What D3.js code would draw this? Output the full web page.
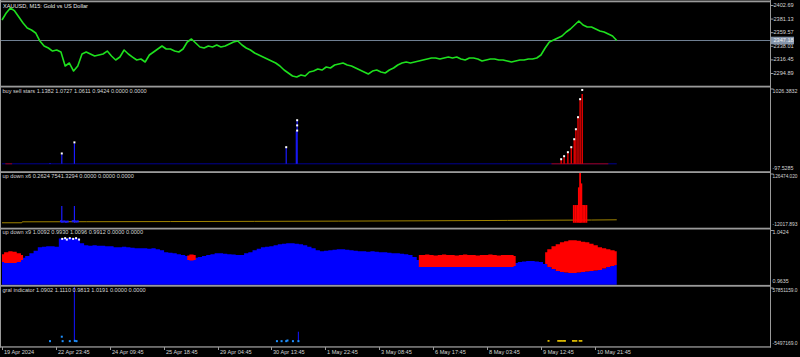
<!DOCTYPE html>
<html><head><meta charset="utf-8">
<script src="https://cdn.jsdelivr.net/npm/d3@7/dist/d3.min.js"></script>
<style>html,body{margin:0;padding:0;background:#000;}svg{display:block;}</style>
</head><body><svg id="chart" width="800" height="357"></svg>
<script>
// ---------------- DATA ----------------
const chartTitle = "XAUUSD, M15:  Gold vs US Dollar";
const sampleStep = 10; // bars between samples
const closePrices = [
2379.7,2390.8,2398.7,2394.0,2384.5,2374.9,2367.0,2363.8,2359.1,2346.4,
2338.5,2335.3,2330.5,2332.1,2329.0,2306.8,2311.5,2298.8,2306.8,2325.8,
2329.0,2325.8,2322.6,2324.2,2325.8,2330.5,2322.6,2316.3,2321.0,2332.1,
2325.8,2321.0,2316.3,2317.9,2313.1,2324.2,2329.0,2333.7,2338.5,2333.7,
2333.7,2330.5,2329.0,2333.7,2344.8,2349.6,2343.3,2336.9,2335.3,2338.5,
2336.9,2340.1,2336.9,2338.5,2341.7,2344.8,2346.4,2340.1,2335.3,2332.1,
2327.4,2324.2,2321.0,2317.9,2314.7,2311.5,2306.8,2300.4,2295.7,2290.9,
2289.3,2292.5,2290.9,2297.3,2298.8,2302.0,2300.4,2305.2,2303.6,2308.4,
2310.0,2311.5,2308.4,2306.8,2303.6,2300.4,2297.3,2294.1,2298.8,2300.4,
2297.3,2295.7,2300.4,2303.6,2308.4,2311.5,2313.1,2311.5,2313.1,2314.7,
2316.3,2317.9,2319.5,2319.5,2317.9,2319.5,2321.0,2319.5,2321.0,2317.9,
2316.3,2319.5,2319.5,2317.9,2314.7,2316.3,2317.9,2317.9,2316.3,2316.3,
2314.7,2313.1,2314.7,2316.3,2316.3,2317.9,2317.9,2319.5,2324.2,2335.3,
2344.8,2348.0,2351.2,2354.3,2360.7,2365.4,2371.8,2378.1,2371.8,2368.6,
2368.6,2365.4,2362.3,2360.7,2357.5,2354.3,2347.2];
const priceTicks = [2402.69, 2381.13, 2359.57, 2338.01, 2316.45, 2294.89];
const priceRange = [2273.5, 2409.8];
const currentPrice = 2347.18;
const timeLabels = ["19 Apr 2024","22 Apr 23:45","24 Apr 09:45","25 Apr 18:45","29 Apr 04:45","30 Apr 13:45","1 May 22:45","3 May 08:45","6 May 17:45","8 May 03:45","9 May 12:45","10 May 21:45"];
const timeTickBars = [0,128,256,384,512,640,768,896,1024,1152,1280,1408];
const totalBars = 1824;

// buy sell stars
const starsLabel = "buy sell stars 1.1382 1.0727 1.0611 0.9424 0.0000 0.0000";
const starsRange = [-97.5285, 1026.3832];
const buyBars = [114, 142, 172, 675, 699, 701];
const buyValues = [12, 129, 278, 214, 440, 580];
const sellBars = [1328, 1335, 1344, 1352, 1359, 1363, 1368, 1373, 1378];
const sellValues = [51, 92, 146, 214, 322, 457, 620, 864, 945];
const starBars = [142, 172, 675, 701, 701, 701, 1328, 1335, 1344, 1352, 1359, 1363, 1368, 1373, 1378];
const starValues = [140, 290, 225, 590, 520, 450, 62, 103, 157, 225, 333, 468, 631, 875, 1000];
const baseSellRanges = [[8, 24], [1305, 1440]];

// up down x6
const udx6Label = "up down x6 0.2624 7541.3294 0.0000 0.0000 0.0000";
const udx6Range = [-12017.893, 126474.020];
const trendBars = [0, 47, 48, 200, 400, 600, 800, 1000, 1200, 1400, 1460];
const trendValues = [0, 0, 2400, 2700, 3100, 3600, 4200, 5000, 6000, 7000, 7541];
const udBlueBars = [142, 172];
const udBlueValues = [42600, 42600];
const udBlueDotBars = [140, 144, 148, 152, 156, 168, 172, 176, 180];
const udBlueDotValues = [4000, 3000, 3500, 2500, 3000, 4000, 4500, 3000, 3500];
const udRedBars = [1358, 1362, 1366, 1370, 1373, 1376, 1380, 1384, 1388];
const udRedValues = [45000, 45000, 45000, 90000, 126474, 100000, 45000, 45000, 45000];

// up down x9
const udx9Label = "up down x9 1.0092 0.9930 1.0096 0.9912 0.0000 0.0000";
const udx9Range = [0.9635, 1.0424];
const blueLevel = [
0.9987,0.9994,1.0001,1.0001,1.0015,1.0022,1.0044,1.0086,1.0121,1.0170,
1.0177,1.0185,1.0185,1.0177,1.0297,1.0304,1.0304,1.0304,1.0297,1.0227,
1.0199,1.0192,1.0199,1.0192,1.0192,1.0185,1.0185,1.0170,1.0170,1.0177,
1.0170,1.0163,1.0156,1.0156,1.0156,1.0149,1.0156,1.0142,1.0128,1.0100,
1.0093,1.0086,1.0072,1.0058,1.0044,1.0030,1.0022,1.0030,1.0044,1.0058,
1.0072,1.0086,1.0086,1.0079,1.0072,1.0065,1.0058,1.0058,1.0086,1.0100,
1.0128,1.0149,1.0170,1.0177,1.0185,1.0199,1.0213,1.0220,1.0227,1.0227,
1.0220,1.0213,1.0199,1.0177,1.0156,1.0128,1.0114,1.0121,1.0128,1.0135,
1.0142,1.0142,1.0135,1.0128,1.0121,1.0114,1.0114,1.0107,1.0114,1.0107,
1.0100,1.0100,1.0093,1.0086,1.0086,1.0079,1.0072,1.0058,1.0030,0.9987,
0.9959,0.9945,0.9931,0.9924,0.9917,0.9917,0.9910,0.9917,0.9917,0.9910,
0.9903,0.9910,0.9917,0.9917,0.9910,0.9903,0.9903,0.9910,0.9917,0.9917,
0.9924,0.9931,0.9945,0.9959,0.9966,0.9973,0.9973,0.9966,0.9959,0.9931,
0.9889,0.9860,0.9832,0.9818,0.9811,0.9804,0.9804,0.9811,0.9818,0.9825,
0.9832,0.9839,0.9846,0.9867,0.9889,0.9903,0.9917];
const redHigh = [
1.0072,1.0100,1.0114,1.0107,1.0086,1.0058,0,0,0,0, 0,0,0,0,0,0,0,0,0,0,
0,0,0,0,0,0,0,0,0,0, 0,0,0,0,0,0,0,0,0,0,
0,0,0,0,1.0051,1.0065,1.0058,0,0,0, 0,0,0,0,0,0,0,0,0,0,
0,0,0,0,0,0,0,0,0,0, 0,0,0,0,0,0,0,0,0,0,
0,0,0,0,0,0,0,0,0,0, 0,0,0,0,0,0,0,0,0,1.0058,
1.0058,1.0065,1.0058,1.0051,1.0058,1.0065,1.0058,1.0058,1.0051,1.0058,
1.0065,1.0058,1.0058,1.0051,1.0058,1.0058,1.0065,1.0058,1.0051,1.0058,
1.0058,1.0058,1.0044,0,0,0,0,0,0,1.0100,
1.0142,1.0185,1.0213,1.0241,1.0255,1.0269,1.0269,1.0262,1.0248,1.0241,
1.0220,1.0199,1.0170,1.0156,1.0142,1.0128,1.0114];
const redLow = [
0.9959,0.9945,0.9945,0.9945,0.9959,0.9987,0,0,0,0, 0,0,0,0,0,0,0,0,0,0,
0,0,0,0,0,0,0,0,0,0, 0,0,0,0,0,0,0,0,0,0,
0,0,0,0,0.9987,0.9980,0.9987,0,0,0, 0,0,0,0,0,0,0,0,0,0,
0,0,0,0,0,0,0,0,0,0, 0,0,0,0,0,0,0,0,0,0,
0,0,0,0,0,0,0,0,0,0, 0,0,0,0,0,0,0,0,0,0.9889,
0.9889,0.9889,0.9889,0.9889,0.9889,0.9889,0.9889,0.9889,0.9889,0.9889,
0.9889,0.9889,0.9889,0.9889,0.9889,0.9889,0.9889,0.9889,0.9889,0.9889,
0.9889,0.9889,0.9903,0,0,0,0,0,0,0.9931,
0.9889,0.9860,0.9832,0.9818,0.9811,0.9804,0.9804,0.9811,0.9818,0.9825,
0.9832,0.9839,0.9846,0.9867,0.9889,0.9903,0.9917];
const whiteDotBars = [143, 150, 154, 161, 169, 176, 183];
const whiteDotValues = [1.0290, 1.0300, 1.0280, 1.0300, 1.0290, 1.0300, 1.0280];

// gral indicator
const gralLabel = "gral indicator 1.0902 1.1110 0.9813 1.0191 0.0000 0.0000";
const gralRange = [-5497169.0, 57851159.0];
const gralSpikeBars = [172, 704];
const gralSpikeValues = [57851159, 10100000];
const gralBlueDotBars = [114, 142, 144, 161, 173, 177, 653, 664, 675, 678, 691, 704];
const gralBlueDotValues = [0, 4760000, 0, 0, 300000, 0, 0, 0, 0, 700000, 0, 0];
const gralYellowDotBars = [1298, 1321, 1325, 1329, 1333, 1337, 1356, 1360, 1364, 1372, 1376];
const gralYellowDotValues = [0, 0, 0, 0, 0, 0, 0, 0, 0, 0, 0];

// ---------------- DRAW ----------------
const svg = d3.select("#chart");
const font = "'Liberation Sans', Arial, sans-serif";
const textCol = "#d4d4d4";
const sepCol = "#9a9a9a";
const plotRight = 770.5;

svg.append("rect").attr("width", 800).attr("height", 357).attr("fill", "#000");

const x = d3.scaleLinear().domain([0, totalBars]).range([2, 770]);
const sampleBar = i => i * sampleStep;

const P = [
  {top: 2, bottom: 85.5},
  {top: 88, bottom: 171},
  {top: 173, bottom: 227.5},
  {top: 229.5, bottom: 284.7},
  {top: 287, bottom: 346.3}
];

svg.append("clipPath").attr("id", "clip").append("rect")
  .attr("x", 1).attr("y", 0).attr("width", plotRight - 1).attr("height", 347);
const g = svg.append("g").attr("clip-path", "url(#clip)");

// ---- panel 1: price ----
const y1 = d3.scaleLinear().domain(priceRange).range([87, 1]);
g.append("line").attr("x1", 1).attr("x2", plotRight).attr("y1", y1(currentPrice)).attr("y2", y1(currentPrice))
  .attr("stroke", "#6f7f92").attr("stroke-width", 1);
g.append("path").datum(closePrices)
  .attr("d", d3.line().x((d, i) => x(sampleBar(i))).y(d => y1(d)))
  .attr("fill", "none").attr("stroke", "#1ee01e").attr("stroke-width", 1.6).attr("stroke-linejoin", "round");

// ---- panel 2: buy sell stars ----
const y2 = d3.scaleLinear().domain(starsRange).range([P[1].bottom, P[1].top]);
g.append("line").attr("x1", x(0)).attr("x2", x(1460)).attr("y1", y2(0)).attr("y2", y2(0))
  .attr("stroke", "#000090").attr("stroke-width", 1);
baseSellRanges.forEach(r => {
  g.append("line").attr("x1", x(r[0])).attr("x2", x(r[1])).attr("y1", y2(0)).attr("y2", y2(0))
    .attr("stroke", "#a00000").attr("stroke-width", 1);
});
g.selectAll(".buy").data(buyBars).enter().append("line")
  .attr("x1", d => x(d)).attr("x2", d => x(d)).attr("y1", y2(0)).attr("y2", (d, i) => y2(buyValues[i]))
  .attr("stroke", "#1a1aff").attr("stroke-width", 1.2);
g.selectAll(".sell").data(sellBars).enter().append("line")
  .attr("x1", d => x(d)).attr("x2", d => x(d)).attr("y1", y2(0)).attr("y2", (d, i) => y2(sellValues[i]))
  .attr("stroke", "#ff0000").attr("stroke-width", 1.3);
g.selectAll(".star").data(starBars).enter().append("rect")
  .attr("x", d => x(d) - 1).attr("y", (d, i) => y2(starValues[i]) - 1).attr("width", 2).attr("height", 2)
  .attr("fill", "#ffffff");

// ---- panel 3: up down x6 ----
const y3 = d3.scaleLinear().domain(udx6Range).range([P[2].bottom, P[2].top]);
g.append("path").datum(trendBars)
  .attr("d", d3.line().x(d => x(d)).y((d, i) => y3(trendValues[i])))
  .attr("fill", "none").attr("stroke", "#a08400").attr("stroke-width", 1);
g.selectAll(".udb").data(udBlueBars).enter().append("line")
  .attr("x1", d => x(d)).attr("x2", d => x(d)).attr("y1", y3(0)).attr("y2", (d, i) => y3(udBlueValues[i]))
  .attr("stroke", "#1a1aff").attr("stroke-width", 1.2);
g.selectAll(".udbd").data(udBlueDotBars).enter().append("rect")
  .attr("x", d => x(d) - 1).attr("y", (d, i) => y3(udBlueDotValues[i]) - 1).attr("width", 2).attr("height", 2)
  .attr("fill", "#1a1aff");
g.selectAll(".udr").data(udRedBars).enter().append("line")
  .attr("x1", d => x(d)).attr("x2", d => x(d)).attr("y1", y3(0)).attr("y2", (d, i) => y3(udRedValues[i]))
  .attr("stroke", "#ff0000").attr("stroke-width", 1.8);

// ---- panel 4: up down x9 ----
const y4 = d3.scaleLinear().domain(udx9Range).range([P[3].bottom, P[3].top]);
g.append("path").datum(blueLevel)
  .attr("d", d3.area().curve(d3.curveStep).x((d, i) => x(sampleBar(i))).y0(P[3].bottom).y1(d => y4(d)))
  .attr("fill", "#0000ff");
g.append("path").datum(redHigh)
  .attr("d", d3.area().curve(d3.curveStep).defined(d => d > 0)
    .x((d, i) => x(sampleBar(i))).y0((d, i) => y4(redLow[i])).y1(d => y4(d)))
  .attr("fill", "#ff0000");
g.selectAll(".wd").data(whiteDotBars).enter().append("rect")
  .attr("x", d => x(d) - 1).attr("y", (d, i) => y4(whiteDotValues[i]) - 1).attr("width", 2).attr("height", 2)
  .attr("fill", "#ffffff");

// ---- panel 5: gral indicator ----
const y5 = d3.scaleLinear().domain(gralRange).range([P[4].bottom, P[4].top]);
g.selectAll(".gs").data(gralSpikeBars).enter().append("line")
  .attr("x1", d => x(d)).attr("x2", d => x(d)).attr("y1", y5(0)).attr("y2", (d, i) => y5(gralSpikeValues[i]))
  .attr("stroke", "#1010e0").attr("stroke-width", 1.2);
g.selectAll(".gb").data(gralBlueDotBars).enter().append("rect")
  .attr("x", d => x(d) - 1).attr("y", (d, i) => y5(gralBlueDotValues[i]) - 1).attr("width", 2).attr("height", 2)
  .attr("fill", "#1e90ff");
g.selectAll(".gy").data(gralYellowDotBars).enter().append("rect")
  .attr("x", d => x(d) - 1).attr("y", (d, i) => y5(gralYellowDotValues[i]) - 1).attr("width", 2).attr("height", 1.5)
  .attr("fill", "#ffd700");

// ---- frame / separators ----
[0.5, 85.7, 171.2, 227.7, 284.9].forEach(yy => {
  svg.append("rect").attr("x", 0).attr("y", yy).attr("width", plotRight + 0.5).attr("height", 1.8).attr("fill", sepCol);
});
svg.append("rect").attr("x", 0).attr("y", 346.3).attr("width", plotRight + 0.5).attr("height", 1.3).attr("fill", sepCol);
svg.append("line").attr("x1", 0.5).attr("x2", 0.5).attr("y1", 0).attr("y2", 347.5).attr("stroke", sepCol);
svg.append("line").attr("x1", plotRight).attr("x2", plotRight).attr("y1", 0).attr("y2", 347.5).attr("stroke", sepCol);

// ---- right axis: price ----
const txt = (sx, sy, s, anchor, size) => svg.append("text").attr("x", sx).attr("y", sy).text(s)
  .attr("font-family", font).attr("font-size", size || 5.6).attr("fill", textCol)
  .attr("text-anchor", anchor || "start").attr("dominant-baseline", "middle");

priceTicks.forEach(t => {
  svg.append("line").attr("x1", plotRight).attr("x2", plotRight + 3).attr("y1", y1(t)).attr("y2", y1(t)).attr("stroke", sepCol);
  txt(773.5, y1(t), t.toFixed(2));
});
const cy = y1(currentPrice);
svg.append("rect").attr("x", 771).attr("y", cy - 3.8).attr("width", 23).attr("height", 7.6).attr("fill", "#8494aa");
txt(773.5, cy, currentPrice.toFixed(2)).attr("fill", "#f0f0f0");

// indicator min/max labels (fit inside the right margin)
const minmax = [
  [starsRange, 4, P[1]], [udx6Range, 3, P[2]], [udx9Range, 4, P[3]], [gralRange, 1, P[4]]
];
minmax.forEach(([r, dec, p]) => {
  svg.append("line").attr("x1", plotRight).attr("x2", plotRight + 3).attr("y1", p.top + 1).attr("y2", p.top + 1).attr("stroke", sepCol);
  [[r[1], p.top + 3.2], [r[0], p.bottom - 2.7]].forEach(([v, yy]) => {
    const t = txt(772.5, yy, v.toFixed(dec), "start", 5.3);
    const w = t.node().getComputedTextLength();
    if (w > 25) t.attr("textLength", 25).attr("lengthAdjust", "spacingAndGlyphs");
  });
});

// ---- panel titles ----
txt(3, 6.5, chartTitle).attr("fill", "#e8e8e8");
txt(2.5, 91.5, starsLabel);
txt(2.5, 176.5, udx6Label);
txt(2.5, 233, udx9Label);
txt(2.5, 290.5, gralLabel);

// ---- time axis ----
timeTickBars.forEach((b, i) => {
  const xx = Math.round(x(b)) + 0.5;
  svg.append("line").attr("x1", xx).attr("x2", xx).attr("y1", 347).attr("y2", 350).attr("stroke", sepCol);
  txt(xx + 1.5, 352.5, timeLabels[i]);
});
</script></body></html>
